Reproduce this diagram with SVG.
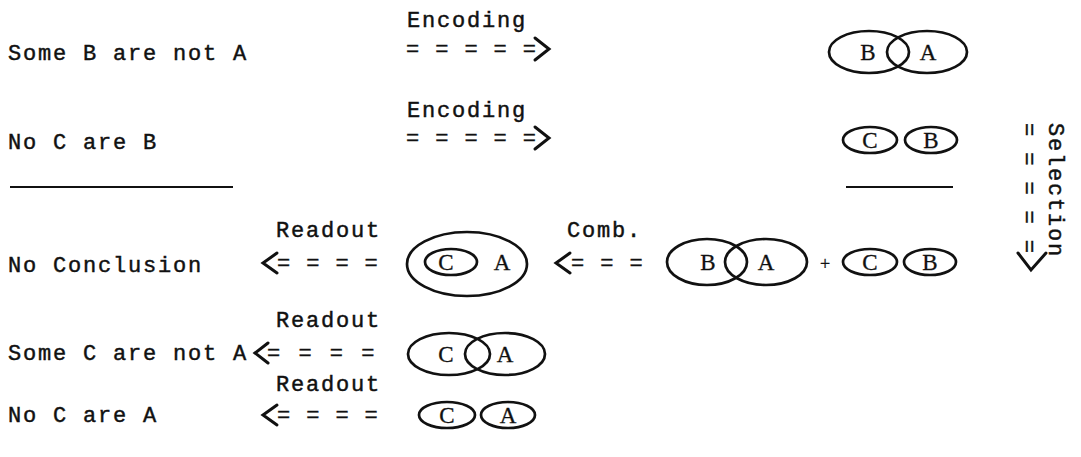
<svg xmlns="http://www.w3.org/2000/svg" width="1081" height="457" viewBox="0 0 1081 457">
<style>
.t{font-family:"Liberation Mono","DejaVu Sans Mono",monospace;font-size:22px;letter-spacing:1.8px;fill:#111;stroke:#111;stroke-width:0.45}
.eq{font-family:"Liberation Mono","DejaVu Sans Mono",monospace;font-size:22px;letter-spacing:1.4px;fill:#111;stroke:#111;stroke-width:0.4}
.l{font-family:"Liberation Serif","DejaVu Serif",serif;font-size:23px;fill:#111;stroke:#111;stroke-width:0.3;text-anchor:middle}
.e{fill:none;stroke:#111;stroke-width:2.7}
.ch{fill:none;stroke:#111;stroke-width:3;stroke-linecap:round;stroke-linejoin:miter}
.rule{stroke:#111;stroke-width:2}
</style>
<rect width="1081" height="457" fill="#fff"/>
<g id="premise1"><text class="t" x="8" y="60">Some B are not A</text></g>
<g id="premise2"><text class="t" x="8" y="149">No C are B</text></g>
<g id="rule-left"><line class="rule" x1="10" y1="187" x2="233" y2="187"/></g>
<g id="rule-right"><line class="rule" x1="846" y1="187" x2="953" y2="187"/></g>
<g id="no-conclusion"><text class="t" x="8" y="272">No Conclusion</text></g>
<g id="concl-some"><text class="t" x="8" y="360">Some C are not A</text></g>
<g id="concl-no"><text class="t" x="8" y="422">No C are A</text></g>

<g id="enc-BA">
<ellipse class="e" cx="869" cy="52" rx="40" ry="21"/>
<ellipse class="e" cx="927" cy="52" rx="40" ry="21"/>
<text class="l" x="868" y="60">B</text><text class="l" x="928" y="60">A</text>
</g>
<g id="enc-CB">
<ellipse class="e" cx="870" cy="140" rx="27" ry="13"/>
<ellipse class="e" cx="931" cy="140" rx="26" ry="13"/>
<text class="l" x="870" y="148">C</text><text class="l" x="931" y="148">B</text>
</g>
<g id="combined">
<ellipse class="e" cx="707" cy="262" rx="40" ry="23"/>
<ellipse class="e" cx="766" cy="262" rx="41" ry="23"/>
<text class="l" x="708" y="270">B</text><text class="l" x="766" y="270">A</text>
<text class="l" x="825" y="270" style="font-size:18px">+</text>
<ellipse class="e" cx="870" cy="262" rx="27" ry="13"/>
<ellipse class="e" cx="930" cy="262" rx="26" ry="13"/>
<text class="l" x="870" y="270">C</text><text class="l" x="930" y="270">B</text>
</g>
<g id="model-nested">
<ellipse class="e" cx="467" cy="264" rx="60" ry="32"/>
<ellipse class="e" cx="451" cy="262" rx="26" ry="13"/>
<text class="l" x="446" y="270">C</text><text class="l" x="502" y="270">A</text>
</g>
<g id="model-overlap">
<ellipse class="e" cx="449" cy="354" rx="41" ry="21"/>
<ellipse class="e" cx="505" cy="354" rx="40" ry="21"/>
<text class="l" x="446" y="362">C</text><text class="l" x="505" y="362">A</text>
</g>
<g id="model-disjoint">
<ellipse class="e" cx="447" cy="415" rx="28" ry="13"/>
<ellipse class="e" cx="508" cy="415" rx="27" ry="13"/>
<text class="l" x="447" y="423">C</text><text class="l" x="508" y="423">A</text>
</g>

<g id="connectors">
<text class="t" x="407" y="27">Encoding</text>
<text class="eq" x="406" y="56">= = = = =</text>
<path class="ch" d="M535 38 L549 49 L535 60"/>
<text class="t" x="407" y="117">Encoding</text>
<text class="eq" x="406" y="145">= = = = =</text>
<path class="ch" d="M535 127 L549 138 L535 149"/>
<text class="t" x="1049" y="123" transform="rotate(90 1049 123)">Selection</text>
<text class="eq" x="1022" y="123" transform="rotate(90 1022 123)">= = = = =</text>
<path class="ch" d="M1018 253 L1031 270 L1046 253"/>
<text class="t" x="276" y="237">Readout</text>
<path class="ch" d="M277 253 L263 263 L277 273"/>
<text class="eq" x="277" y="270">= = = =</text>
<text class="t" x="567" y="237">Comb.</text>
<path class="ch" d="M570 253 L556 263 L570 273"/>
<text class="eq" x="571" y="270">= = =</text>
<text class="t" x="276" y="327">Readout</text>
<path class="ch" d="M268 343 L255 353 L268 363"/>
<text class="eq" x="267" y="360" style="letter-spacing:2.5px">= = = =</text>
<text class="t" x="276" y="391">Readout</text>
<path class="ch" d="M277 405 L263 415 L277 425"/>
<text class="eq" x="277" y="422">= = = =</text>
</g>
</svg>
